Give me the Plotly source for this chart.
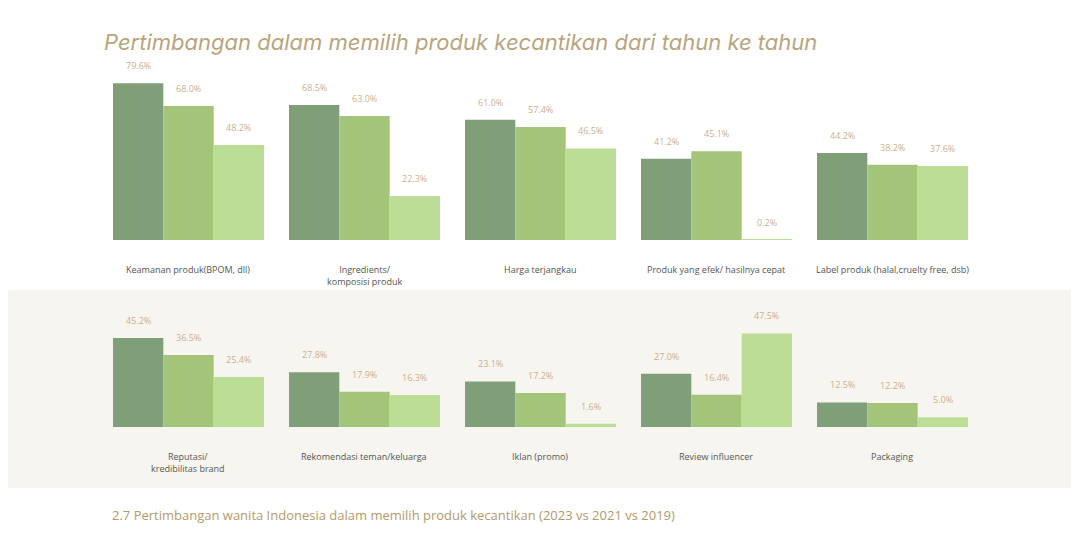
import plotly.graph_objects as go

categories = ["Keamanan produk(BPOM, dll)", "Ingredients/<br>komposisi produk", "Harga terjangkau",
              "Produk yang efek/ hasilnya cepat", "Label produk (halal,cruelty free, dsb)",
              "Reputasi/<br>kredibilitas brand", "Rekomendasi teman/keluarga", "Iklan (promo)",
              "Review influencer", "Packaging"]
v2023 = [79.6, 68.5, 61.0, 41.2, 44.2, 45.2, 27.8, 23.1, 27.0, 12.5]
v2021 = [68.0, 63.0, 57.4, 45.1, 38.2, 36.5, 17.9, 17.2, 16.4, 12.2]
v2019 = [48.2, 22.3, 46.5, 0.2, 37.6, 25.4, 16.3, 1.6, 47.5, 5.0]
colors = ["#7f9f78", "#a3c479", "#bcdd96"]

OFF = 8
W, H = 1079 - 2 * OFF, 551 - 2 * OFF
def px(x): return (x - OFF) / W
def py(y): return 1 - (y - OFF) / H

fig = go.Figure()
layout = dict(width=W, height=H, margin=dict(l=0, r=0, t=0, b=0), showlegend=False,
              plot_bgcolor="rgba(0,0,0,0)", paper_bgcolor="white", annotations=[], shapes=[])
layout["shapes"].append(dict(type="rect", xref="paper", yref="paper", x0=-0.01, x1=1.01,
                             y0=py(488), y1=py(290), fillcolor="#f7f5f0", line_width=0, layer="below"))
for i, cat in enumerate(categories):
    row, col = divmod(i, 5)
    x0 = 113 + 176 * col
    base = 240 if row == 0 else 427
    top = base - 197
    n = i + 1
    xa = "x" if n == 1 else f"x{n}"
    ya = "y" if n == 1 else f"y{n}"
    vals = [v2023[i], v2021[i], v2019[i]]
    fig.add_trace(go.Bar(x=[0, 1, 2], y=vals, width=1, marker=dict(color=colors, line_width=0),
                         xaxis=xa, yaxis=ya, hoverinfo="skip"))
    layout[f"xaxis{n if n > 1 else ''}"] = dict(domain=[px(x0), px(x0 + 151)], range=[-0.5, 2.5],
                                                 visible=False, anchor=ya)
    layout[f"yaxis{n if n > 1 else ''}"] = dict(domain=[py(base), py(top)], range=[0, 100],
                                                 visible=False, anchor=xa)
    for j, v in enumerate(vals):
        layout["annotations"].append(dict(x=j, y=v, xref=xa, yref=ya, text=f"{v:.1f}%", showarrow=False,
                                          xanchor="center", yanchor="bottom", yshift=9,
                                          font=dict(size=9, color="#cdb08c", family="Open Sans")))
    layout["annotations"].append(dict(x=px(x0 + 75), y=py(base + 21), xref="paper", yref="paper",
                                      text=cat, showarrow=False, xanchor="center", yanchor="top",
                                      font=dict(size=9, color="#555555", family="Open Sans")))
layout["annotations"].append(dict(x=px(102), y=py(42), xref="paper", yref="paper", xanchor="left", yanchor="middle",
                                  text="<i>Pertimbangan dalam memilih produk kecantikan dari tahun ke tahun</i>",
                                  showarrow=False, font=dict(size=22, color="#b8a57c", family="Inter")))
layout["annotations"].append(dict(x=px(110), y=py(515), xref="paper", yref="paper", xanchor="left", yanchor="middle",
                                  text="2.7 Pertimbangan wanita Indonesia dalam memilih produk kecantikan (2023 vs 2021 vs 2019)",
                                  showarrow=False, font=dict(size=13, color="#b59a6a", family="Open Sans")))
fig.update_layout(**layout)
fig.write_html("out.html")
